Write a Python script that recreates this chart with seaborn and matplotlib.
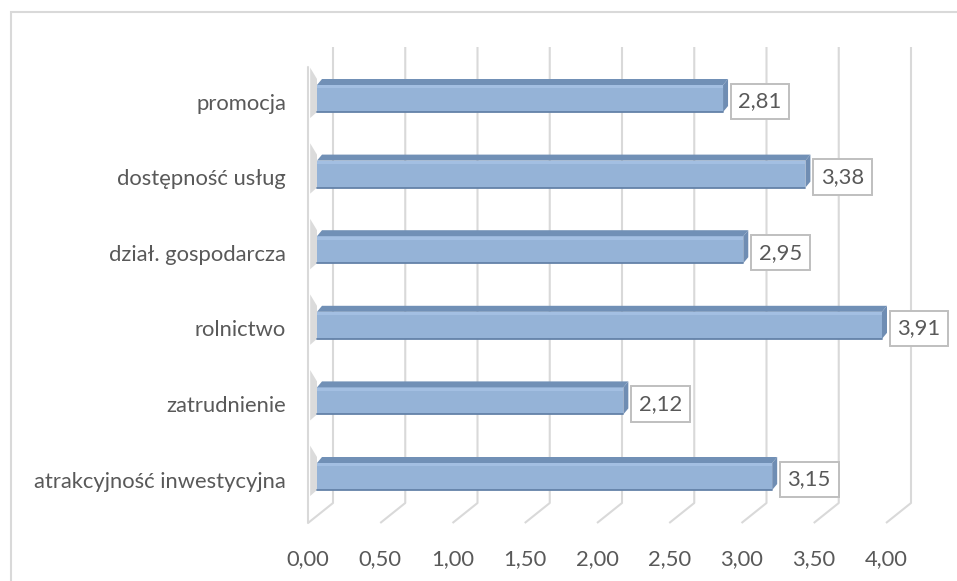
import matplotlib
matplotlib.use("Agg")
import matplotlib.pyplot as plt
import matplotlib.patches as mpatches
from matplotlib.transforms import ScaledTranslation
import seaborn as sns
import pandas as pd

categories = ["promocja", "dostępność usług", "dział. gospodarcza", "rolnictwo",
              "zatrudnienie", "atrakcyjność inwestycyjna"]
values = [2.81, 3.38, 2.95, 3.91, 2.12, 3.15]
xticks = [0.0, 0.5, 1.0, 1.5, 2.0, 2.5, 3.0, 3.5, 4.0]
xtick_labels = ["0,00", "0,50", "1,00", "1,50", "2,00", "2,50", "3,00", "3,50", "4,00"]

df = pd.DataFrame({"cat": categories, "val": values})

sns.set_theme(style="white")
plt.rcParams["font.family"] = ["Lato", "DejaVu Sans"]
TXT = "#595959"
FS = 15.8

W, H = 957, 581
fig = plt.figure(figsize=(W / 100, H / 100), dpi=100)

# pixel geometry
PX_PER_UNIT = 144.5
X0PX = 317.0          # bar start
Y0PX = 98.5           # first bar front-face centre
PX_PER_CAT = 75.6
ax_l, ax_r, ax_t, ax_b = 300, 935, 40, 530
ax = fig.add_axes([ax_l / W, 1 - ax_b / H, (ax_r - ax_l) / W, (ax_b - ax_t) / H])

def xd(px):
    return (px - X0PX) / PX_PER_UNIT

def yd(py):
    return (py - Y0PX) / PX_PER_CAT

bar_h = 27 / PX_PER_CAT
dx = 5 / PX_PER_UNIT
dy = 6 / PX_PER_CAT
back_off = xd(333)   # back wall offset
front_off = xd(308)  # front offset

# gridlines (back wall + floor diagonals)
for t in xticks:
    ax.plot([t + back_off, t + back_off, t + front_off],
            [yd(47), yd(503), yd(523)], color="#D9D9D9", lw=1.5,
            solid_capstyle="butt", zorder=0)
# left wall front edge
ax.plot([front_off, front_off], [yd(67), yd(523)], color="#D9D9D9", lw=1.5, zorder=0)

sns.barplot(data=df, x="val", y="cat", orient="h", color="#95B3D7",
            width=bar_h, saturation=1, ax=ax, zorder=3, linewidth=0)

for i, v in enumerate(values):
    top = i - bar_h / 2
    bot = i + bar_h / 2
    # shadow on left wall
    ax.fill([front_off + 0.015, 0, 0, front_off + 0.015],
            [top - dy - 0.15, top - dy, bot, bot + 0.08],
            color="#B0B0B0", alpha=0.45, lw=0, zorder=2)
    # light highlight band on front face
    ax.fill([0, v, v, 0], [top, top, top + 0.045, top + 0.045],
            color="#A3BFE2", lw=0, zorder=4)
    # top face
    ax.fill([0, v, v + dx, dx], [top, top, top - dy, top - dy],
            color="#7190B6", lw=0, zorder=4)
    # right cap
    ax.fill([v, v + dx, v + dx, v], [top, top - dy, bot - dy, bot],
            color="#6F8DB3", lw=0, zorder=4)
    # bottom edge
    ax.plot([0, v], [bot, bot], color="#6482A8", lw=1.3, zorder=5)
    # data label
    ax.annotate(f"{v:.2f}".replace(".", ","), xy=(v, i), xytext=(37, -3),
                textcoords="offset pixels", ha="center", va="center",
                fontsize=FS, color=TXT, zorder=6,
                bbox=dict(boxstyle="square,pad=0.35", fc="white", ec="#BFBFBF", lw=1.4))

ax.set_xlim(xd(ax_l), xd(ax_r))
ax.set_ylim(yd(ax_b), yd(ax_t))
ax.set_xticks(xticks)
ax.set_xticklabels(xtick_labels, fontsize=FS, color=TXT)
ax.set_yticks(range(len(categories)))
ax.set_yticklabels(categories, fontsize=FS, color=TXT)
ax.tick_params(axis="both", length=0)
ax.tick_params(axis="y", pad=10)
ax.tick_params(axis="x", pad=14)
for lab in ax.get_xticklabels():
    lab.set_transform(lab.get_transform() + ScaledTranslation(-9 / 100, 0, fig.dpi_scale_trans))
for lab in ax.get_yticklabels():
    lab.set_transform(lab.get_transform() + ScaledTranslation(0, -3 / 100, fig.dpi_scale_trans))
ax.set_xlabel("")
ax.set_ylabel("")
for s in ax.spines.values():
    s.set_visible(False)
ax.patch.set_alpha(0)

# outer chart border
fig.patches.append(mpatches.Rectangle((10.5 / W, -0.2), 1.5, 1 - 12 / H + 0.2,
                                      transform=fig.transFigure, fill=False,
                                      ec="#D9D9D9", lw=1.5))

fig.savefig("out.png", dpi=100)
